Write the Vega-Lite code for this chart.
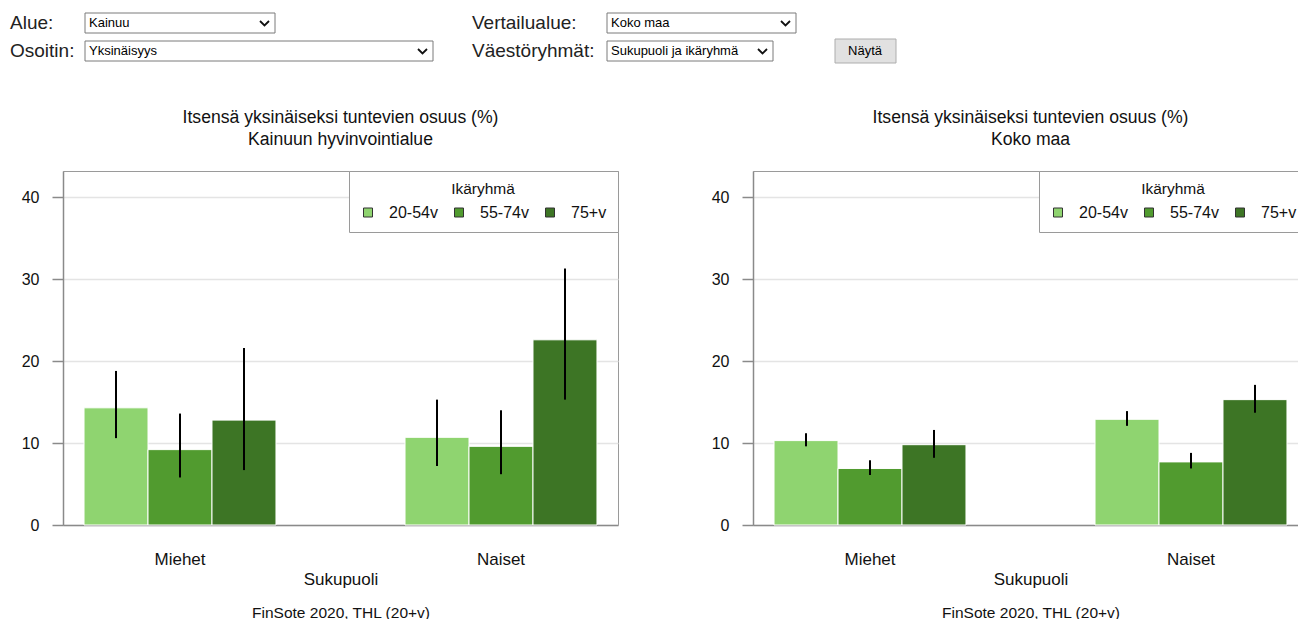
{
  "$schema": "https://vega.github.io/schema/vega-lite/v6.json",
  "background": "white",
  "padding": {"left": 9, "top": 0, "right": 0, "bottom": 0},
  "spacing": 42,
  "config": {
    "font": "Liberation Sans",
    "view": {"stroke": "#9a9a9a"}
  },
  "datasets": {
    "ohjaimet": [
      {"kentta": "Alue", "ryhma": "A", "rivi": "1", "otsikko": "Alue:", "arvo": "Kainuu"},
      {"kentta": "Osoitin", "ryhma": "A", "rivi": "2", "otsikko": "Osoitin:", "arvo": "Yksinäisyys"},
      {"kentta": "Vertailualue", "ryhma": "B", "rivi": "1", "otsikko": "Vertailualue:", "arvo": "Koko maa"},
      {"kentta": "Väestöryhmät", "ryhma": "B", "rivi": "2", "otsikko": "Väestöryhmät:", "arvo": "Sukupuoli ja ikäryhmä"}
    ],
    "painike": [{"painike": "Näytä", "rivi": "2"}],
    "kainuu": [
      {"sukupuoli": "Miehet", "ikaryhma": "20-54v", "osuus": 14.3, "ala": 10.6, "yla": 18.8},
      {"sukupuoli": "Miehet", "ikaryhma": "55-74v", "osuus": 9.2, "ala": 5.8, "yla": 13.6},
      {"sukupuoli": "Miehet", "ikaryhma": "75+v", "osuus": 12.8, "ala": 6.7, "yla": 21.6},
      {"sukupuoli": "Naiset", "ikaryhma": "20-54v", "osuus": 10.7, "ala": 7.2, "yla": 15.3},
      {"sukupuoli": "Naiset", "ikaryhma": "55-74v", "osuus": 9.6, "ala": 6.2, "yla": 14.0},
      {"sukupuoli": "Naiset", "ikaryhma": "75+v", "osuus": 22.6, "ala": 15.3, "yla": 31.3}
    ],
    "kokomaa": [
      {"sukupuoli": "Miehet", "ikaryhma": "20-54v", "osuus": 10.3, "ala": 9.6, "yla": 11.2},
      {"sukupuoli": "Miehet", "ikaryhma": "55-74v", "osuus": 6.9, "ala": 6.1, "yla": 7.9},
      {"sukupuoli": "Miehet", "ikaryhma": "75+v", "osuus": 9.8, "ala": 8.2, "yla": 11.6},
      {"sukupuoli": "Naiset", "ikaryhma": "20-54v", "osuus": 12.9, "ala": 12.1, "yla": 13.9},
      {"sukupuoli": "Naiset", "ikaryhma": "55-74v", "osuus": 7.7, "ala": 6.9, "yla": 8.8},
      {"sukupuoli": "Naiset", "ikaryhma": "75+v", "osuus": 15.3, "ala": 13.7, "yla": 17.1}
    ]
  },
  "vconcat": [
    {
      "width": 850,
      "height": 64,
      "view": {"stroke": "transparent"},
      "layer": [
        {
          "data": {"name": "ohjaimet"},
          "mark": {"type": "text", "align": "left", "baseline": "middle", "fontSize": 19, "color": "#222"},
          "encoding": {
            "x": {"field": "ryhma", "type": "nominal", "scale": {"type": "point", "range": [-53, 409], "padding": 0}, "axis": null},
            "y": {"field": "rivi", "type": "ordinal", "scale": {"type": "point", "range": [22, 50], "padding": 0}, "axis": null},
            "text": {"field": "otsikko"}
          }
        },
        {
          "data": {"name": "ohjaimet"},
          "mark": {"type": "point", "filled": true, "fill": "white", "stroke": "#7a7a7a", "strokeWidth": 1, "size": 400, "opacity": 1},
          "encoding": {
            "x": {"field": "ryhma", "type": "nominal", "scale": {"type": "point", "range": [22, 544], "padding": 0}, "axis": null},
            "y": {"field": "rivi", "type": "ordinal", "axis": null},
            "shape": {"field": "kentta", "type": "nominal", "legend": null, "scale": {
              "domain": ["Alue", "Osoitin", "Vertailualue", "Väestöryhmät"],
              "range": ["M0,-1h19v2h-19z", "M0,-1h34.8v2h-34.8z", "M0,-1h18.9v2h-18.9z", "M0,-1h16.6v2h-16.6z"]}}
          }
        },
        {
          "data": {"name": "ohjaimet"},
          "mark": {"type": "point", "filled": false, "stroke": "#111", "strokeWidth": 1.8, "size": 400, "opacity": 1},
          "encoding": {
            "x": {"field": "ryhma", "type": "nominal", "scale": {"type": "point", "range": [22, 544], "padding": 0}, "axis": null},
            "y": {"field": "rivi", "type": "ordinal", "axis": null},
            "shape": {"field": "kentta", "type": "nominal", "legend": null, "scale": {
              "domain": ["Alue", "Osoitin", "Vertailualue", "Väestöryhmät"],
              "range": ["M17.5,-0.2L17.95,0.25L18.4,-0.2", "M33.3,-0.2L33.75,0.25L34.2,-0.2", "M17.4,-0.2L17.85,0.25L18.3,-0.2", "M15.1,-0.2L15.55,0.25L16,-0.2"]}}
          }
        },
        {
          "data": {"name": "ohjaimet"},
          "mark": {"type": "text", "align": "left", "baseline": "middle", "fontSize": 13, "color": "#000"},
          "encoding": {
            "x": {"field": "ryhma", "type": "nominal", "scale": {"type": "point", "range": [26, 548], "padding": 0}, "axis": null},
            "y": {"field": "rivi", "type": "ordinal", "axis": null},
            "text": {"field": "arvo"}
          }
        },
        {
          "data": {"name": "painike"},
          "mark": {"type": "point", "filled": true, "fill": "#e1e1e1", "stroke": "#adadad", "strokeWidth": 1, "size": 400, "opacity": 1, "shape": "M0,-1.2h6.1v2.4h-6.1z"},
          "encoding": {
            "x": {"field": "painike", "type": "nominal", "scale": {"type": "point", "range": [772, 772], "padding": 0}, "axis": null},
            "y": {"field": "rivi", "type": "ordinal", "axis": null}
          }
        },
        {
          "data": {"name": "painike"},
          "mark": {"type": "text", "align": "center", "baseline": "middle", "fontSize": 13, "color": "#000"},
          "encoding": {
            "x": {"field": "painike", "type": "nominal", "scale": {"type": "point", "range": [802, 802], "padding": 0}, "axis": null},
            "y": {"field": "rivi", "type": "ordinal", "axis": null},
            "text": {"field": "painike"}
          }
        }
      ],
      "resolve": {"scale": {"x": "independent", "shape": "independent"}}
    },
    {
      "spacing": 80,
      "hconcat": [
        {
          "width": 555,
          "height": 354,
          "data": {"name": "kainuu"},
          "title": {"text": ["Itsensä yksinäiseksi tuntevien osuus (%)", "Kainuun hyvinvointialue"], "fontSize": 17.6, "fontWeight": "normal", "color": "#111", "lineHeight": 22, "offset": 22, "anchor": "middle"},
          "layer": [
            {
              "mark": {"type": "bar", "stroke": "white", "strokeWidth": 1},
              "encoding": {
                "x": {"field": "sukupuoli", "type": "nominal", "scale": {"paddingInner": 0.402, "paddingOuter": 0.0655},
                  "axis": {"title": "Sukupuoli", "labelAngle": 0, "ticks": false, "tickSize": 0, "domainColor": "#8a8a8a", "domainWidth": 1.5, "labelFontSize": 17, "labelColor": "#111", "labelPadding": 26, "titleFontSize": 17, "titleFontWeight": "normal", "titleColor": "#111", "titlePadding": 4}},
                "xOffset": {"field": "ikaryhma", "type": "nominal", "scale": {"paddingInner": 0, "paddingOuter": 0}},
                "y": {"field": "osuus", "type": "quantitative", "scale": {"domain": [0, 43.2], "nice": false},
                  "axis": {"title": null, "values": [0, 10, 20, 30, 40], "grid": true, "gridColor": "#e4e4e4", "gridWidth": 1.5, "domainColor": "#8a8a8a", "domainWidth": 1.5, "tickColor": "#8a8a8a", "tickWidth": 1.5, "tickSize": 11, "labelPadding": 13, "labelFontSize": 16, "labelColor": "#111", "minExtent": 53}},
                "color": {"field": "ikaryhma", "type": "nominal", "scale": {"domain": ["20-54v", "55-74v", "75+v"], "range": ["#8fd470", "#519b2f", "#3d7525"]},
                  "legend": {"title": "Ikäryhmä", "orient": "top-right", "direction": "horizontal", "gridAlign": "all", "offset": 0, "fillColor": "white", "strokeColor": "#9a9a9a", "padding": 11, "titleAnchor": "middle", "titleFontSize": 15.5, "titleFontWeight": "normal", "titleColor": "#111", "titlePadding": 7, "labelFontSize": 16, "labelColor": "#111", "labelOffset": 13, "columnPadding": 13, "symbolType": "square", "symbolSize": 81, "symbolStrokeColor": "#333", "symbolStrokeWidth": 1}}
              }
            },
            {
              "mark": {"type": "rule", "color": "black", "strokeWidth": 2},
              "encoding": {
                "x": {"field": "sukupuoli", "type": "nominal", "scale": {"paddingInner": 0.402, "paddingOuter": 0.0655},
                  "axis": {"orient": "bottom", "title": "FinSote 2020, THL (20+v)", "labels": false, "ticks": false, "domain": false, "grid": false, "titleFontSize": 15.5, "titleFontWeight": "normal", "titleColor": "#111", "titlePadding": 80}},
                "xOffset": {"field": "ikaryhma", "type": "nominal", "scale": {"paddingInner": 0, "paddingOuter": 0}},
                "y": {"field": "ala", "type": "quantitative"},
                "y2": {"field": "yla"}
              }
            }
          ],
          "resolve": {"scale": {"x": "independent", "xOffset": "independent"}, "axis": {"x": "independent"}}
        },
        {
          "width": 555,
          "height": 354,
          "data": {"name": "kokomaa"},
          "title": {"text": ["Itsensä yksinäiseksi tuntevien osuus (%)", "Koko maa"], "fontSize": 17.6, "fontWeight": "normal", "color": "#111", "lineHeight": 22, "offset": 22, "anchor": "middle"},
          "layer": [
            {
              "mark": {"type": "bar", "stroke": "white", "strokeWidth": 1},
              "encoding": {
                "x": {"field": "sukupuoli", "type": "nominal", "scale": {"paddingInner": 0.402, "paddingOuter": 0.0655},
                  "axis": {"title": "Sukupuoli", "labelAngle": 0, "ticks": false, "tickSize": 0, "domainColor": "#8a8a8a", "domainWidth": 1.5, "labelFontSize": 17, "labelColor": "#111", "labelPadding": 26, "titleFontSize": 17, "titleFontWeight": "normal", "titleColor": "#111", "titlePadding": 4}},
                "xOffset": {"field": "ikaryhma", "type": "nominal", "scale": {"paddingInner": 0, "paddingOuter": 0}},
                "y": {"field": "osuus", "type": "quantitative", "scale": {"domain": [0, 43.2], "nice": false},
                  "axis": {"title": null, "values": [0, 10, 20, 30, 40], "grid": true, "gridColor": "#e4e4e4", "gridWidth": 1.5, "domainColor": "#8a8a8a", "domainWidth": 1.5, "tickColor": "#8a8a8a", "tickWidth": 1.5, "tickSize": 11, "labelPadding": 13, "labelFontSize": 16, "labelColor": "#111", "minExtent": 53}},
                "color": {"field": "ikaryhma", "type": "nominal", "scale": {"domain": ["20-54v", "55-74v", "75+v"], "range": ["#8fd470", "#519b2f", "#3d7525"]},
                  "legend": {"title": "Ikäryhmä", "orient": "top-right", "direction": "horizontal", "gridAlign": "all", "offset": 0, "fillColor": "white", "strokeColor": "#9a9a9a", "padding": 11, "titleAnchor": "middle", "titleFontSize": 15.5, "titleFontWeight": "normal", "titleColor": "#111", "titlePadding": 7, "labelFontSize": 16, "labelColor": "#111", "labelOffset": 13, "columnPadding": 13, "symbolType": "square", "symbolSize": 81, "symbolStrokeColor": "#333", "symbolStrokeWidth": 1}}
              }
            },
            {
              "mark": {"type": "rule", "color": "black", "strokeWidth": 2},
              "encoding": {
                "x": {"field": "sukupuoli", "type": "nominal", "scale": {"paddingInner": 0.402, "paddingOuter": 0.0655},
                  "axis": {"orient": "bottom", "title": "FinSote 2020, THL (20+v)", "labels": false, "ticks": false, "domain": false, "grid": false, "titleFontSize": 15.5, "titleFontWeight": "normal", "titleColor": "#111", "titlePadding": 80}},
                "xOffset": {"field": "ikaryhma", "type": "nominal", "scale": {"paddingInner": 0, "paddingOuter": 0}},
                "y": {"field": "ala", "type": "quantitative"},
                "y2": {"field": "yla"}
              }
            }
          ],
          "resolve": {"scale": {"x": "independent", "xOffset": "independent", "color": "independent"}, "axis": {"x": "independent"}}
        }
      ],
      "resolve": {"scale": {"color": "independent"}, "legend": {"color": "independent"}}
    }
  ]
}
